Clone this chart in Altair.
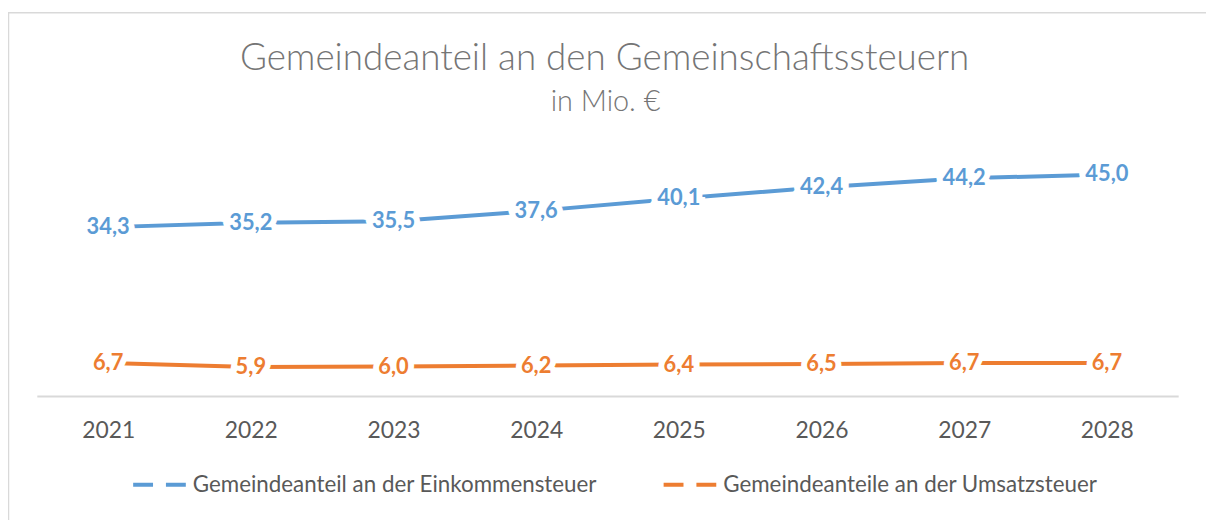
import altair as alt
import pandas as pd

years = ["2021", "2022", "2023", "2024", "2025", "2026", "2027", "2028"]
einkommen = [34.3, 35.2, 35.5, 37.6, 40.1, 42.4, 44.2, 45.0]
umsatz = [6.7, 5.9, 6.0, 6.2, 6.4, 6.5, 6.7, 6.7]
series = ["Gemeindeanteil an der Einkommensteuer", "Gemeindeanteile an der Umsatzsteuer"]
colors = ["#5B9BD5", "#ED7D31"]
title_text = "Gemeindeanteil an den Gemeinschaftssteuern"
subtitle_text = "in Mio. €"

rows = []
for name, vals in zip(series, [einkommen, umsatz]):
    for y, v in zip(years, vals):
        rows.append({"Jahr": y, "Wert": v, "Reihe": name, "Label": f"{v:.1f}".replace(".", ",")})
df = pd.DataFrame(rows)

FONT = "Lato"
W, H = 1149, 248

x = alt.X("Jahr:N", title=None, sort=years,
          scale=alt.Scale(paddingInner=0, paddingOuter=0.5),
          axis=alt.Axis(labelAngle=0, ticks=False, domainColor="#D9D9D9", domainWidth=2,
                        labelFontSize=23, labelColor="#595959", labelFont=FONT, labelPadding=24,
                        grid=False))
y = alt.Y("Wert:Q", title=None, scale=alt.Scale(domain=[0, 50], nice=False), axis=None)
color = alt.Color("Reihe:N", title=None, sort=series,
                  scale=alt.Scale(domain=series, range=colors),
                  legend=alt.Legend(orient="none", legendX=95, legendY=308, direction="horizontal",
                                    symbolType="stroke", symbolStrokeWidth=4, symbolSize=2916,
                                    symbolDash=[20, 13], labelFontSize=22.5, labelColor="#595959",
                                    labelFont=FONT, labelOffset=4, columnPadding=58, columns=2,
                                    labelLimit=700))

base = alt.Chart(df)
one = pd.DataFrame({"t": [title_text], "s": [subtitle_text]})

border = alt.Chart(one).mark_rect(fill=None, stroke="#D9D9D9", strokeWidth=1.5).encode(
    x=alt.value(-28.5), x2=alt.value(1200), y=alt.value(-138), y2=alt.value(400))
title = alt.Chart(one).mark_text(font=FONT, fontSize=37, fontWeight=300, color="#757575",
                                 baseline="alphabetic", align="center").encode(
    x=alt.value(W / 2 - 3), y=alt.value(-80), text="t:N")
subtitle = alt.Chart(one).mark_text(font=FONT, fontSize=29, fontWeight=300, color="#757575",
                                    baseline="alphabetic", align="center").encode(
    x=alt.value(W / 2 - 2), y=alt.value(-39), text="s:N")

lines = base.mark_line(strokeWidth=4).encode(x=x, y=y, color=color)
halo = base.mark_text(fontSize=22, fontWeight="bold", font=FONT, stroke="white", strokeWidth=12,
                      fill="white", baseline="middle").encode(x=x, y=y, text="Label:N")
labels = base.mark_text(fontSize=22, fontWeight="bold", font=FONT, baseline="middle").encode(
    x=x, y=y, text="Label:N",
    color=alt.Color("Reihe:N", scale=alt.Scale(domain=series, range=colors), legend=None))

chart = alt.layer(border, title, subtitle, lines, halo, labels).properties(
    width=W, height=H,
    autosize=alt.AutoSizeParams(type="none"),
    padding={"left": 29, "top": 141, "right": 28, "bottom": 123},
).configure_view(stroke=None)

chart.save("out.html", embed_options={"renderer": "svg", "actions": False})
